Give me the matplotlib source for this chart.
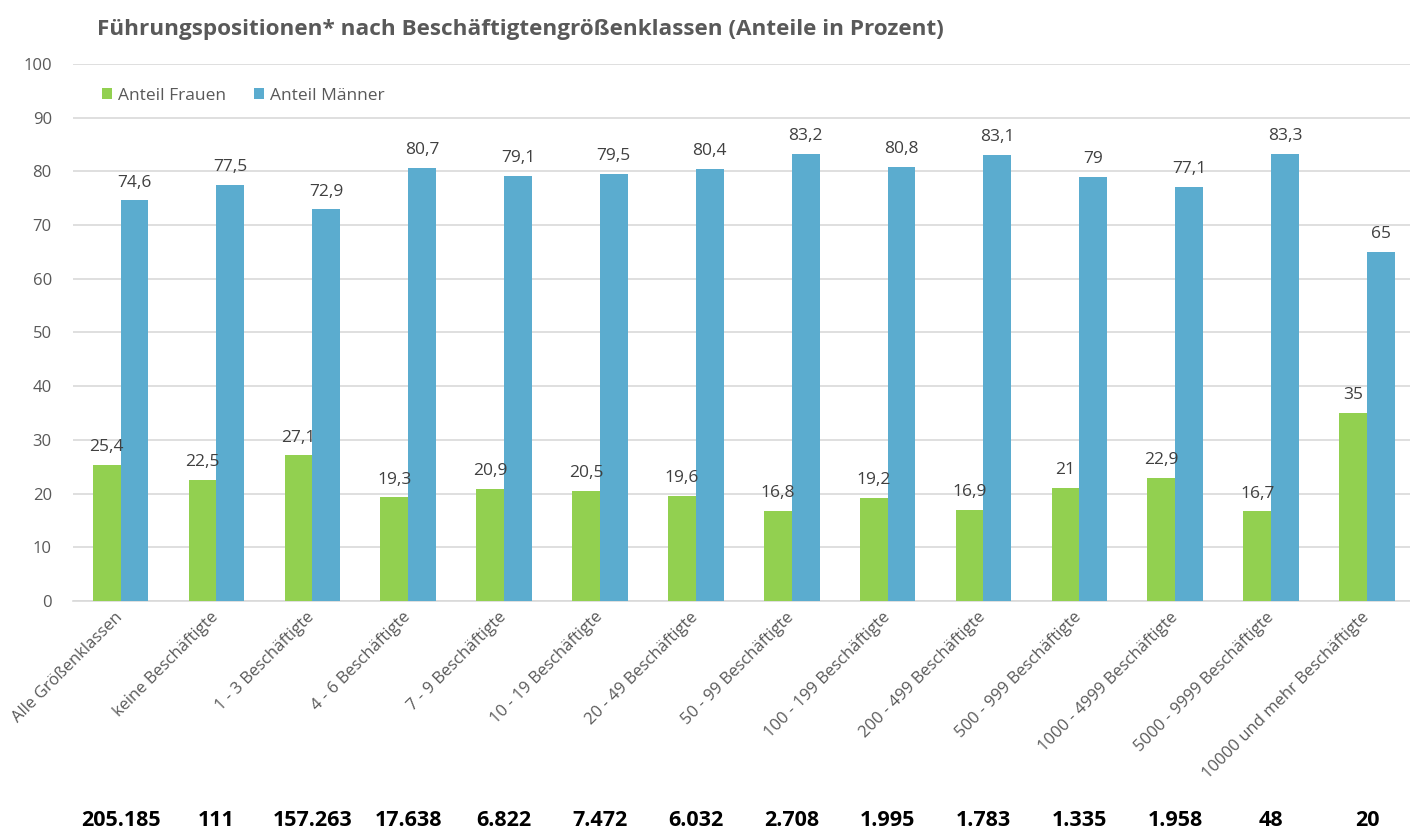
import numpy as np
import matplotlib.pyplot as plt

plt.rcParams['font.family'] = ['Open Sans', 'DejaVu Sans']

categories = ['Alle Größenklassen', 'keine Beschäftigte', '1 - 3 Beschäftigte', '4 - 6 Beschäftigte',
              '7 - 9 Beschäftigte', '10 - 19 Beschäftigte', '20 - 49 Beschäftigte', '50 - 99 Beschäftigte',
              '100 - 199 Beschäftigte', '200 - 499 Beschäftigte', '500 - 999 Beschäftigte',
              '1000 - 4999 Beschäftigte', '5000 - 9999 Beschäftigte', '10000 und mehr Beschäftigte']
frauen = [25.4, 22.5, 27.1, 19.3, 20.9, 20.5, 19.6, 16.8, 19.2, 16.9, 21, 22.9, 16.7, 35]
maenner = [74.6, 77.5, 72.9, 80.7, 79.1, 79.5, 80.4, 83.2, 80.8, 83.1, 79, 77.1, 83.3, 65]
anzahl = ['205.185', '111', '157.263', '17.638', '6.822', '7.472', '6.032', '2.708',
          '1.995', '1.783', '1.335', '1.958', '48', '20']

green = '#92D050'
blue = '#5BACCF'
gray = '#595959'

fig = plt.figure(figsize=(14.1, 8.3), dpi=100)
ax = fig.add_axes([0.0515, 0.276, 0.952, 0.647])

x = np.arange(len(categories))
w = 0.29
b1 = ax.bar(x - w / 2, frauen, w, color=green, label='Anteil Frauen', zorder=3)
b2 = ax.bar(x + w / 2, maenner, w, color=blue, label='Anteil Männer', zorder=3)

def fmt(v):
    return ('%g' % v).replace('.', ',')

for bars, vals in ((b1, frauen), (b2, maenner)):
    for rect, v in zip(bars, vals):
        ax.annotate(fmt(v), (rect.get_x() + rect.get_width() / 2, v), xytext=(0, 7),
                    textcoords='offset points', ha='center', va='bottom', fontsize=12.5, color='#404040')

ax.set_xlim(-0.5, len(categories) - 0.5)
ax.set_ylim(0, 100)
ax.set_yticks(range(0, 101, 10))
ax.yaxis.grid(True, color='#D9D9D9', linewidth=1.2, zorder=0)
ax.tick_params(axis='y', length=0, labelsize=12, labelcolor=gray, pad=15)
ax.tick_params(axis='x', length=0, pad=10)
ax.set_xticks(x)
ax.set_xticklabels(categories, rotation=45, ha='right', va='center', rotation_mode='anchor',
                   fontsize=12, color=gray)
for s in ['top', 'right', 'left']:
    ax.spines[s].set_visible(False)
ax.spines['bottom'].set_color('#D9D9D9')
ax.spines['bottom'].set_linewidth(1.2)

ax.legend(loc='upper left', bbox_to_anchor=(0.01, 0.985), ncol=2, frameon=False, fontsize=12.5,
          handlelength=0.6, handleheight=0.6, handletextpad=0.35, columnspacing=1.6,
          labelcolor=gray)

for xi, n in zip(x, anzahl):
    ax.text(xi, -0.408, n, transform=ax.get_xaxis_transform(), ha='center', va='center',
            fontsize=15.5, fontweight='bold', color='black')

fig.text(0.069, 0.965, 'Führungspositionen* nach Beschäftigtengrößenklassen (Anteile in Prozent)',
         fontsize=16.2, fontweight='bold', color=gray, va='center')

fig.savefig('out.png', dpi=100)
